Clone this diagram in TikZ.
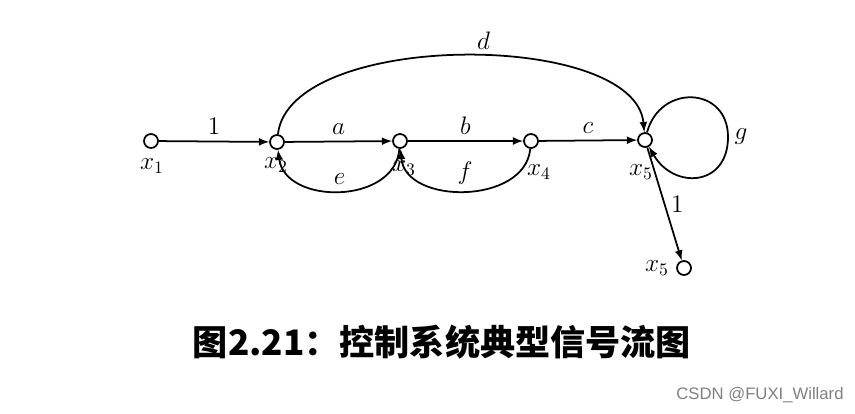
\documentclass[tikz,border=0pt]{standalone}
\usepackage{fontspec}
\newfontfamily\cjk{Noto Sans CJK SC}
\newfontfamily\wmfont{Liberation Sans}
\begin{document}
\begin{tikzpicture}[
    x=0.02cm, y=-0.02cm,
    signal/.style={
        circle,
        draw,
        fill=white,
        line width=1pt,
        inner sep=0pt,
        minimum size=0.28cm,
    },
    >=latex, line width=1pt,
    font=\fontsize{14}{16}\selectfont
]
\useasboundingbox (0,0) rectangle (855,413);

\node[signal] (x1) at (151,141) {};
\node[signal] (x2) at (277,142) {};
\node[signal] (x3) at (400,141) {};
\node[signal] (x4) at (531,141) {};
\node[signal] (x5) at (645,140) {};
\node[signal] (x5out) at (684,268) {};
\coordinate (gright) at (728,137);

\node (lx1) at (152,166) {$x_1$};
\node (lx2) at (276,165) {$x_2$};
\node (lx3) at (404,168) {$x_3$};
\node (lx4) at (539,172) {$x_4$};
\node (lx5) at (641,172) {$x_5$};
\node (lx5out) at (657,268) {$x_5$};

\draw[->] (x1) -- node[above] {$1$} (x2);
\draw[->] (x2) -- node[above] {$a$} (x3);
\draw[->] (x3) -- node[above] {$b$} (x4);
\draw[->] (x4) -- node[above] {$c$} (x5);
\draw[->] (x2) .. controls (290,30) and (635,30) .. node[above, pos=0.54] {$d$} (x5);
\draw[->] (x3) .. controls (395,205) and (285,205) .. node[above] {$e$} (x2);
\draw[->] (x4) .. controls (525,205) and (405,205) .. node[above] {$f$} (x3);
\draw[->] (x5) to[out=75, in=90, looseness=1.6] (gright) node[right] {$g$}
    to[out=-90, in=-60, looseness=1.6] (x5);
\draw[->] (x5) -- node[right] {$1$} (x5out);

% caption
\node (title) at (442,342) {\cjk\bfseries\fontsize{20}{24}\selectfont 图2.21：控制系统典型信号流图};
\node[text=gray] (mark) at (760,395) {\wmfont\fontsize{9.5}{11}\selectfont CSDN @FUXI\_Willard};

\end{tikzpicture}
\end{document}
